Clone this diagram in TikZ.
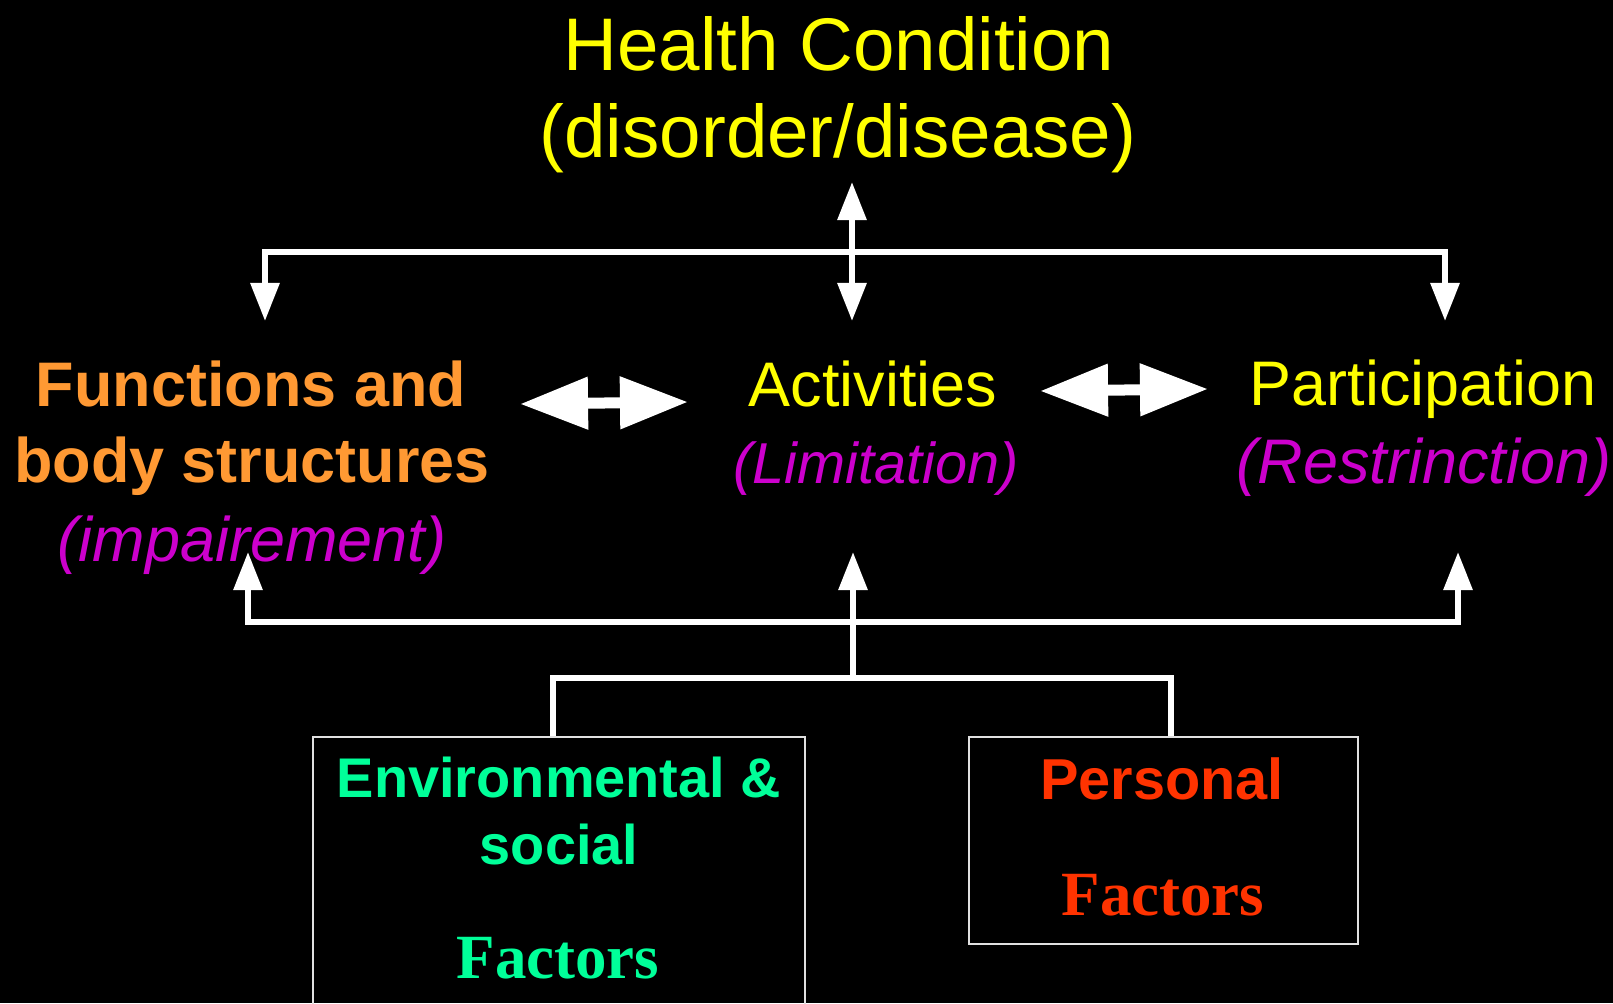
\documentclass[tikz,border=0pt]{standalone}
\usepackage{fontspec}
\setmainfont{Liberation Sans}
\newfontfamily\timesfont{Liberation Serif}
\usetikzlibrary{arrows.meta}
\definecolor{HCYellow}{HTML}{FFFF00}
\definecolor{BodyOrange}{HTML}{FF9933}
\definecolor{QualMagenta}{HTML}{CC00CC}
\definecolor{EnvGreen}{HTML}{00FF99}
\definecolor{PersRed}{HTML}{FF3300}

\begin{document}
\begin{tikzpicture}[
      x=0.01cm, y=-0.01cm,
      every node/.style={inner sep=0pt},
      big/.style={anchor=base, font=\fontsize{21.2}{25}\selectfont, text=HCYellow},
      mid/.style={anchor=base, font=\fontsize{17.9}{22}\selectfont, text=HCYellow},
      midbold/.style={anchor=base, font=\fontsize{17.9}{22}\selectfont\bfseries, text=BodyOrange},
      qual/.style={anchor=base, font=\fontsize{17.9}{22}\selectfont\itshape, text=QualMagenta},
      boxtxt/.style={anchor=base, font=\fontsize{15.9}{19}\selectfont\bfseries},
      factor/.style={anchor=base, font=\timesfont\fontsize{17.9}{22}\selectfont\bfseries},
      factorbox/.style={draw=white!88!black, line width=0.02cm, anchor=north west},
      link/.style={white, line width=0.06cm},
      arrow/.style={link, -{Triangle[length=0.38cm, width=0.28cm]}},
      dblarrow/.style={link, {Triangle[length=0.38cm, width=0.28cm]}-{Triangle[length=0.38cm, width=0.28cm]}},
      fatarrow/.style={white, line width=0.11cm, {Triangle[length=0.68cm, width=0.5cm]}-{Triangle[length=0.68cm, width=0.5cm]}}
    ]
      \path[use as bounding box, fill=black] (0,0) rectangle (1613,1003);
      \clip (0,0) rectangle (1613,1003);

      \node[big] (health) at (839,70) {Health Condition};
      \node[big] (healthsub) at (838,157) {(disorder/disease)};

      \node[midbold] (func) at (251,406) {Functions and};
      \node[midbold] (body) at (252,482) {body structures};
      \node[qual] (impair) at (252,561) {(impairement)};
      \node[mid] (activ) at (873,406) {Activities};
      \node[qual, font=\fontsize{16.4}{20}\selectfont\itshape] (limit) at (876,483) {(Limitation)};
      \node[mid] (partic) at (1423,405) {Participation};
      \node[qual] (restr) at (1424,483) {(Restrinction)};

      \node[factorbox, minimum width=4.92cm, minimum height=3.2cm] (envbox) at (312,736) {};
      \node[factorbox, minimum width=3.89cm, minimum height=2.07cm] (perbox) at (968,736) {};
      \node[boxtxt, text=EnvGreen] (env) at (559,797) {Environmental \&};
      \node[boxtxt, text=EnvGreen] (social) at (559,864) {social};
      \node[factor, text=EnvGreen] (envfac) at (558,978) {Factors};
      \node[boxtxt, text=PersRed, font=\fontsize{16.4}{19}\selectfont\bfseries] (pers) at (1162,799) {Personal};
      \node[factor, text=PersRed] (persfac) at (1163,915) {Factors};

      % arrow ends
      \coordinate (hctip) at (852,182);
      \coordinate (actop) at (852,321);
      \coordinate (fntop) at (265,321);
      \coordinate (pttop) at (1445,321);
      \coordinate (fnbot) at (248,552);
      \coordinate (acbot) at (853,552);
      \coordinate (ptbot) at (1458,552);
      \coordinate (hub) at (853,678);
      \coordinate (fatAl) at (520,404);
      \coordinate (fatAr) at (688,402);
      \coordinate (fatBl) at (1040,391);
      \coordinate (fatBr) at (1208,389);

      \draw[dblarrow] (hctip) -- (actop);
      \draw[dblarrow] (fntop) -- ++(0,-69) -| (pttop);
      \draw[dblarrow] (fnbot) -- ++(0,70) -| (ptbot);
      \draw[arrow] (hub) -- (acbot);
      \draw[link] ([xshift=-0.06cm]envbox.north) |- (hub) -| ([xshift=0.07cm]perbox.north);

      \draw[fatarrow] (fatAl) -- (fatAr);
      \draw[fatarrow] (fatBl) -- (fatBr);

    \end{tikzpicture}
\end{document}
